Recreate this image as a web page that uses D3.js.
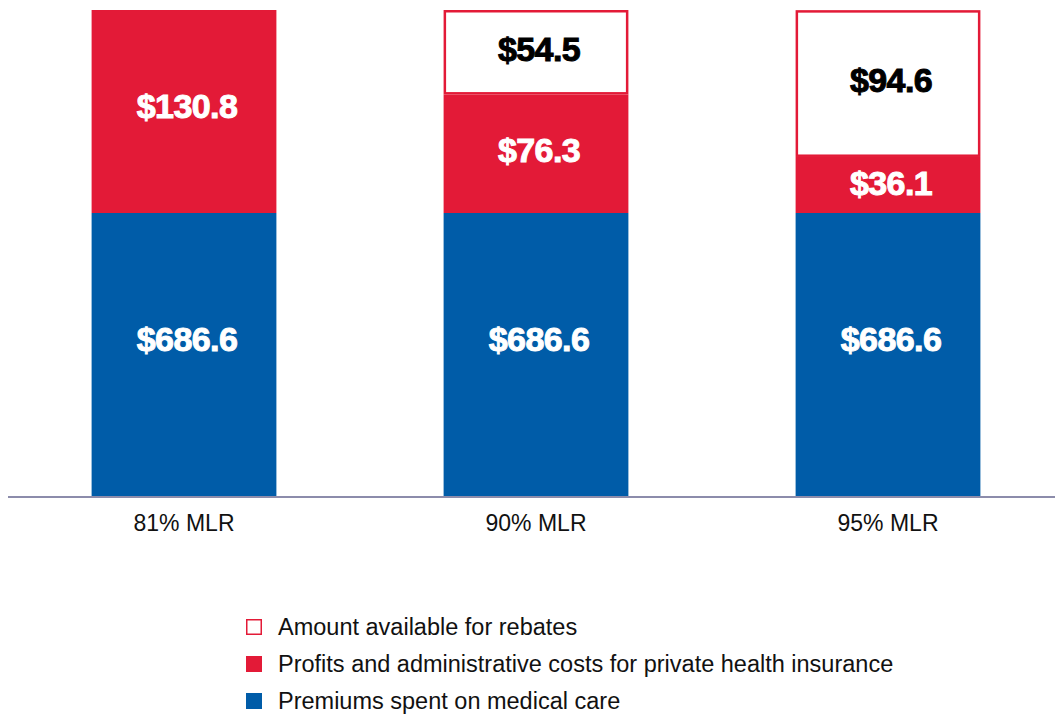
<!DOCTYPE html>
<html>
<head>
<meta charset="utf-8">
<script src="https://cdn.jsdelivr.net/npm/d3@7"></script>
<style>
  body { margin: 0; background: #fff; }
  svg { display: block; }
</style>
</head>
<body>
<div id="chart"></div>
<script>
// data, in billions of dollars
const categories = ["81% MLR", "90% MLR", "95% MLR"];
const medical = [686.6, 686.6, 686.6];
const profits = [130.8, 76.3, 36.1];
const rebates = [0, 54.5, 94.6];

const seriesKeys = ["medical", "profits", "rebates"];
const legendLabels = [
  "Amount available for rebates",
  "Profits and administrative costs for private health insurance",
  "Premiums spent on medical care"
];

const width = 1055, height = 715;
const red = "#e31a37", blue = "#005ca8";

const rows = categories.map((c, i) => ({
  cat: c, medical: medical[i], profits: profits[i], rebates: rebates[i]
}));

const svg = d3.select("#chart")
  .append("svg")
  .attr("width", width)
  .attr("height", height)
  .style("font-family", "'Liberation Sans Narrow', 'Liberation Sans', Arial, sans-serif");

const x = d3.scaleBand()
  .domain(categories)
  .range([8, 1064])
  .paddingInner(0.475)
  .paddingOuter(0.2375);

// the original chart compresses the medical-care part: broken linear scale
const y = d3.scaleLinear()
  .domain([0, 686.6, 817.4])
  .range([496, 213, 10]);

const stack = d3.stack().keys(seriesKeys);
const layers = stack(rows);

const fills = { medical: blue, profits: red, rebates: "#fff" };
const labelFill = { medical: "#fff", profits: "#fff", rebates: "#000" };

const layer = svg.selectAll("g.layer")
  .data(layers)
  .join("g")
    .attr("class", "layer");

const sw = 2.5;
layer.selectAll("rect")
  .data(d => d.map(p => Object.assign(p, { key: d.key })).filter(p => p[1] - p[0] > 0))
  .join("rect")
    .attr("x", d => x(d.data.cat) + (d.key === "rebates" ? sw / 2 : 0))
    .attr("y", d => y(d[1]) + (d.key === "rebates" ? sw / 2 : 0))
    .attr("width", d => x.bandwidth() - (d.key === "rebates" ? sw : 0))
    .attr("height", d => y(d[0]) - y(d[1]) - (d.key === "rebates" ? sw : 0))
    .attr("fill", d => fills[d.key])
    .attr("stroke", d => d.key === "rebates" ? red : "none")
    .attr("stroke-width", sw);

// value labels
layer.selectAll("text")
  .data(d => d.filter(p => p[1] - p[0] > 0))
  .join("text")
    .attr("x", d => x(d.data.cat) + x.bandwidth() / 2 + 3)
    .attr("y", d => {
      const top = y(d[1]), bot = y(d[0]);
      const f = d.key === "medical" ? 0.45 : 0.48;
      return top + (bot - top) * f;
    })
    .attr("dy", "0.32em")
    .attr("text-anchor", "middle")
    .attr("font-family", "'Liberation Sans', Arial, sans-serif")
    .attr("font-weight", "bold")
    .attr("font-size", 34)
    .attr("letter-spacing", -0.6)
    .attr("fill", d => labelFill[d.key])
    .attr("stroke", d => labelFill[d.key])
    .attr("stroke-width", 1)
    .text(d => "$" + (d[1] - d[0]).toFixed(1));

// baseline
svg.append("line")
  .attr("x1", 8).attr("x2", width)
  .attr("y1", y(0) + 1).attr("y2", y(0) + 1)
  .attr("stroke", "#8c8cab")
  .attr("stroke-width", 2);

// category labels
const xAxis = svg.append("g")
  .attr("transform", `translate(0,${y(0)})`)
  .call(d3.axisBottom(x).tickSize(0).tickPadding(19));
xAxis.select(".domain").remove();
xAxis.selectAll("text")
  .attr("font-family", "'Liberation Sans Narrow', 'Liberation Sans', Arial, sans-serif")
  .attr("font-size", 23)
  .attr("fill", "#111");

// legend
const legendItems = [
  { label: legendLabels[0], fill: "#fff", stroke: red },
  { label: legendLabels[1], fill: red, stroke: "none" },
  { label: legendLabels[2], fill: blue, stroke: "none" }
];
const legend = svg.append("g")
  .attr("transform", "translate(246,627)");
const li = legend.selectAll("g")
  .data(legendItems)
  .join("g")
    .attr("transform", (d, i) => `translate(0,${i * 37})`);
li.append("rect")
  .attr("x", d => d.stroke === "none" ? 0 : 0.75)
  .attr("y", d => -8 + (d.stroke === "none" ? 0 : 0.75))
  .attr("width", d => d.stroke === "none" ? 16 : 14.5)
  .attr("height", d => d.stroke === "none" ? 16 : 14.5)
  .attr("fill", d => d.fill)
  .attr("stroke", d => d.stroke)
  .attr("stroke-width", 1.5);
li.append("text")
  .attr("x", 32)
  .attr("dy", "0.35em")
  .attr("font-size", 23.5)
  .attr("fill", "#111")
  .text(d => d.label);
</script>
</body>
</html>
